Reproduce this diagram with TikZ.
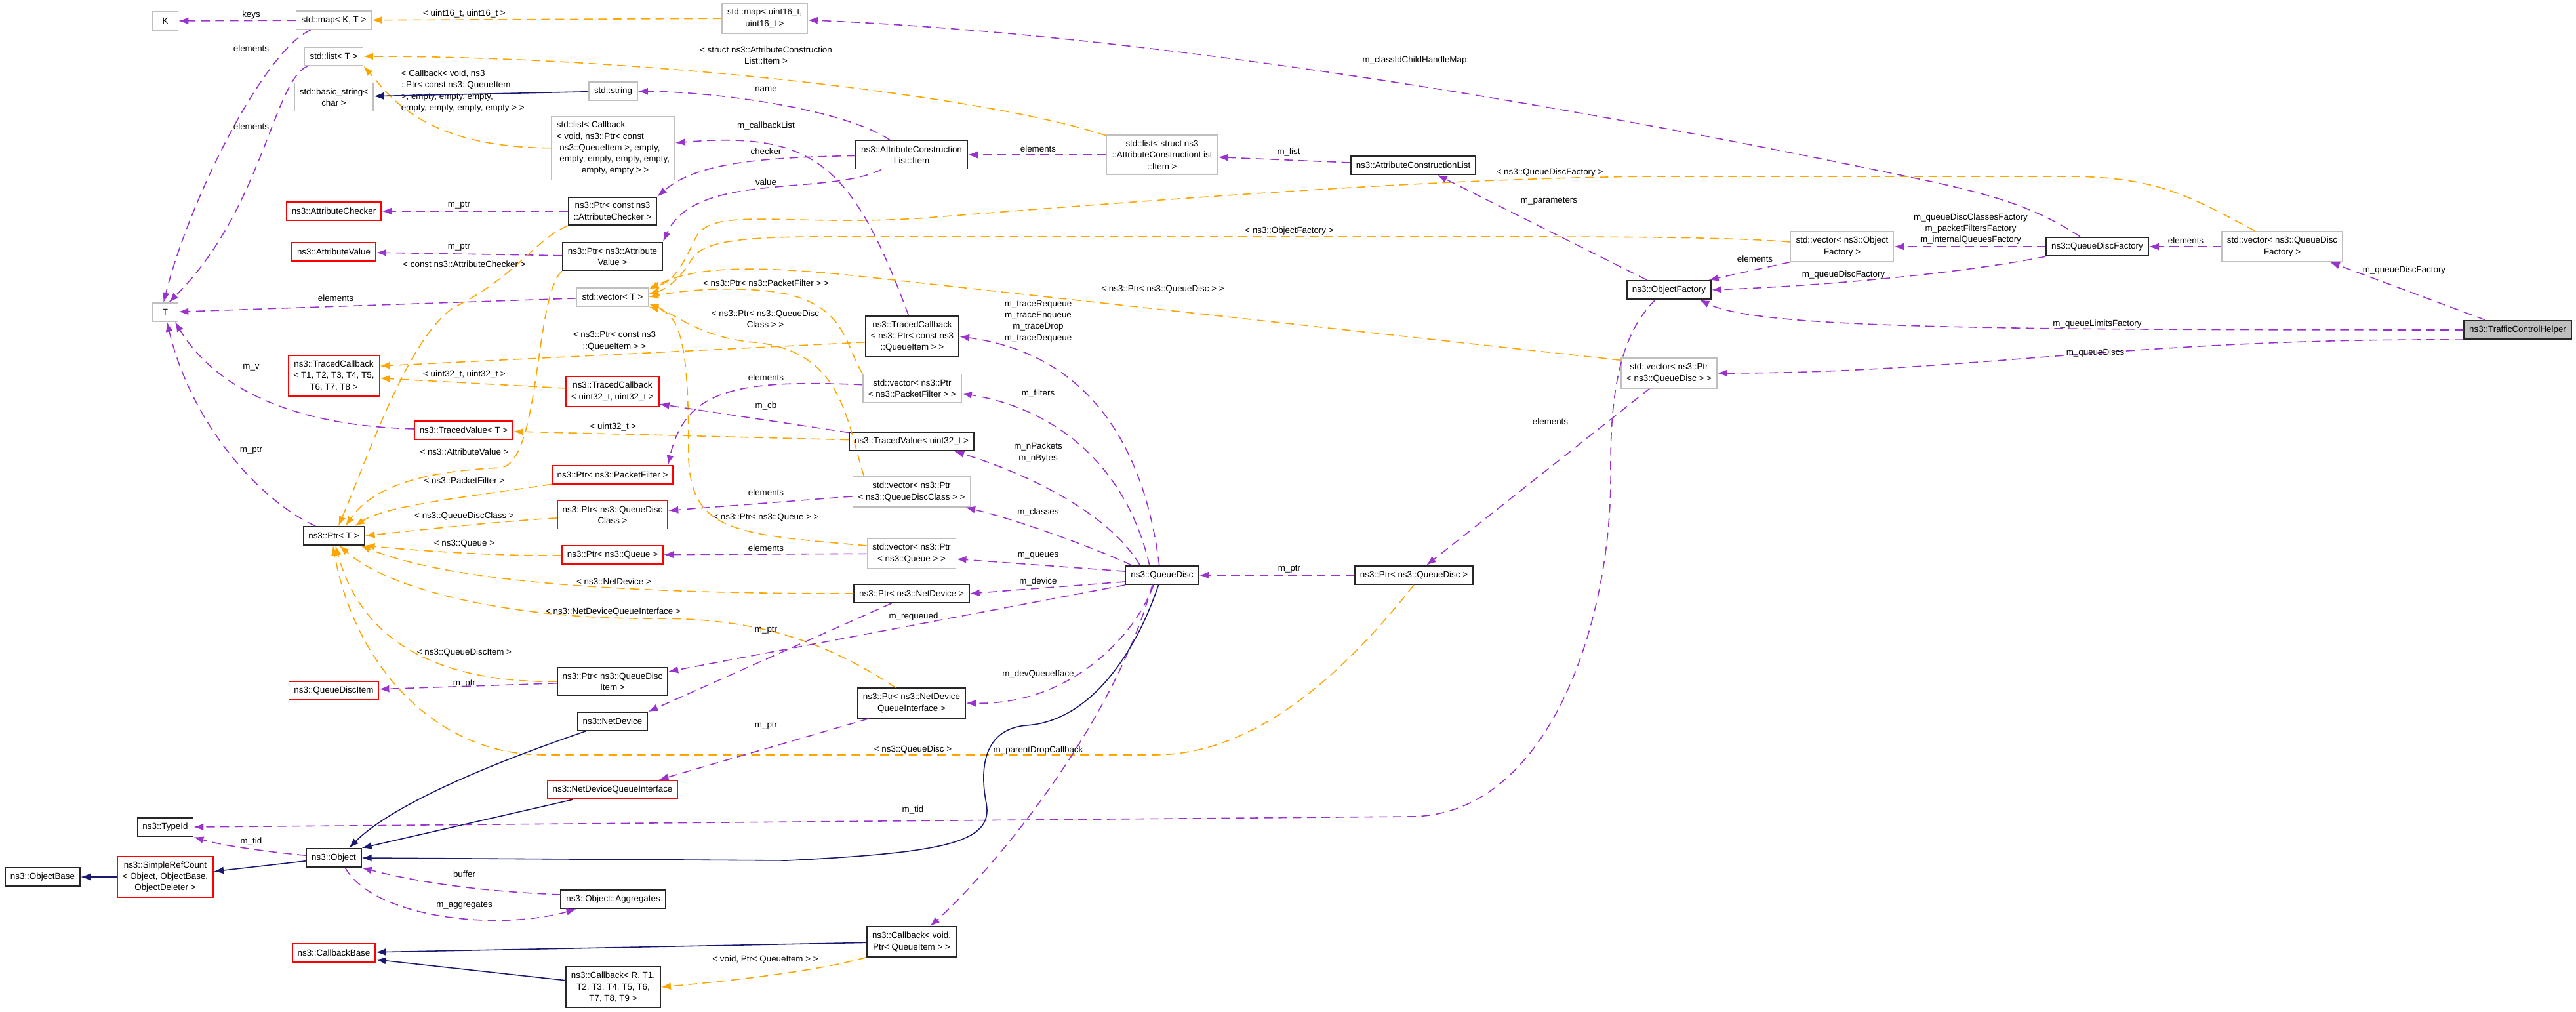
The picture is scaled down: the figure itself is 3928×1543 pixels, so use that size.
\documentclass[tikz,border=0pt]{standalone}
\usepackage{fontspec}
\setmainfont{Liberation Sans}
\usetikzlibrary{arrows.meta}
\definecolor{usecol}{HTML}{9A32CD}
\definecolor{tplcol}{HTML}{FFA500}
\definecolor{inhcol}{HTML}{191970}

\begin{document}
\begin{tikzpicture}[x=0.01cm ,y=-0.01cm ,
font=\fontsize{3.8}{4.9}\selectfont ,
anybox/.style ={rectangle ,draw ,align=center ,inner xsep=0.08cm ,inner ysep=0.08cm ,
  minimum height=0.28cm ,line width=0.5pt},
docbox/.style ={anybox ,draw=black!85},
extbox/.style ={anybox ,draw=black!25 ,line width=0.45pt},
redbox/.style ={anybox ,draw=red},
rootbox/.style ={anybox ,draw=black!85 ,fill=black!25},
usage/.style ={draw=usecol ,line width=0.45pt ,dash pattern=on 3.8pt off 2.4pt ,
  -{Latex[length=0.15cm,width=0.11cm]}},
tmpl/.style ={usage ,draw=tplcol},
inherit/.style ={draw=inhcol ,line width=0.45pt ,-{Latex[length=0.15cm,width=0.11cm]}},
elabel/.style ={inner sep=0pt ,align=center}
]
\useasboundingbox (0,0) rectangle (3928,1543);

% classes
\node[extbox ,minimum width=0.39cm] (K) at (252,32) {K};
\node[extbox] (mapKT) at (509,31) {std::map< K, T >};
\node[extbox] (listT) at (509,86) {std::list< T >};
\node[extbox] (bstr) at (509,148) {std::basic\_string<\\char >};
\node[redbox] (atChk) at (509,322) {ns3::AttributeChecker};
\node[redbox] (atVal) at (509,384) {ns3::AttributeValue};
\node[extbox ,minimum width=0.39cm] (T) at (252,476) {T};
\node[redbox] (tcT) at (509,573) {ns3::TracedCallback\\< T1, T2, T3, T4, T5,\\T6, T7, T8 >};
\node[redbox] (tvT) at (707,656) {ns3::TracedValue< T >};
\node[docbox] (ptrT) at (509,817) {ns3::Ptr< T >};
\node[redbox] (qdItem) at (509,1053) {ns3::QueueDiscItem};
\node[docbox] (typeId) at (252,1261) {ns3::TypeId};
\node[docbox] (obj) at (509,1308) {ns3::Object};
\node[redbox] (refCnt) at (252,1337) {ns3::SimpleRefCount\\< Object, ObjectBase,\\ObjectDeleter >};
\node[docbox] (objBase) at (65,1337) {ns3::ObjectBase};
\node[redbox] (cbBase) at (509,1453) {ns3::CallbackBase};

\node[extbox] (map16) at (1166,28) {std::map< uint16\_t,\\uint16\_t >};
\node[extbox] (str) at (935,139) {std::string};
\node[extbox ,align=left] (listCb) at (935,226) {std::list< Callback\\< void, ns3::Ptr< const\\\hspace*{0.045cm}ns3::QueueItem >, empty,\\\hspace*{0.045cm}empty, empty, empty, empty,\\\hspace*{0.38cm}empty, empty > >};
\node[docbox] (ptrChk) at (934,322) {ns3::Ptr< const ns3\\::AttributeChecker >};
\node[docbox] (ptrVal) at (934,391) {ns3::Ptr< ns3::Attribute\\Value >};
\node[extbox] (vecT) at (934,453) {std::vector< T >};
\node[redbox] (tcU) at (934,597) {ns3::TracedCallback\\< uint32\_t, uint32\_t >};
\node[redbox] (ptrPf) at (934,724) {ns3::Ptr< ns3::PacketFilter >};
\node[redbox] (ptrQdc) at (934,785) {ns3::Ptr< ns3::QueueDisc\\Class >};
\node[redbox] (ptrQ) at (934,846) {ns3::Ptr< ns3::Queue >};
\node[docbox] (ptrQdi) at (934,1039) {ns3::Ptr< ns3::QueueDisc\\Item >};
\node[docbox] (netDev) at (934,1100) {ns3::NetDevice};
\node[redbox] (ndqi) at (934,1204) {ns3::NetDeviceQueueInterface};
\node[docbox] (aggr) at (935,1371) {ns3::Object::Aggregates};
\node[docbox] (cbRT) at (935,1505) {ns3::Callback< R, T1,\\T2, T3, T4, T5, T6,\\T7, T8, T9 >};

\node[docbox] (item) at (1390,236) {ns3::AttributeConstruction\\List::Item};
\node[docbox] (tcQi) at (1391,513) {ns3::TracedCallback\\< ns3::Ptr< const ns3\\::QueueItem > >};
\node[extbox] (vecPf) at (1391,592) {std::vector< ns3::Ptr\\< ns3::PacketFilter > >};
\node[docbox] (tvU) at (1390,673) {ns3::TracedValue< uint32\_t >};
\node[extbox] (vecQdc) at (1390,750) {std::vector< ns3::Ptr\\< ns3::QueueDiscClass > >};
\node[extbox] (vecQ) at (1390,844) {std::vector< ns3::Ptr\\< ns3::Queue > >};
\node[docbox] (ptrNd) at (1390,905) {ns3::Ptr< ns3::NetDevice >};
\node[docbox] (ptrNdqi) at (1390,1072) {ns3::Ptr< ns3::NetDevice\\QueueInterface >};
\node[docbox] (cbVoid) at (1390,1436) {ns3::Callback< void,\\Ptr< QueueItem > >};

\node[extbox] (listItem) at (1772,236) {std::list< struct ns3\\::AttributeConstructionList\\::Item >};
\node[docbox] (qd) at (1772,877) {ns3::QueueDisc};
\node[docbox] (acl) at (2155,252) {ns3::AttributeConstructionList};
\node[docbox] (ptrQd) at (2156,877) {ns3::Ptr< ns3::QueueDisc >};
\node[docbox] (objFac) at (2545,442) {ns3::ObjectFactory};
\node[extbox] (vecQd) at (2545,569) {std::vector< ns3::Ptr\\< ns3::QueueDisc > >};
\node[extbox] (vecOf) at (2809,376) {std::vector< ns3::Object\\Factory >};
\node[docbox] (qdFac) at (3198,376) {ns3::QueueDiscFactory};
\node[extbox] (vecQdf) at (3480,376) {std::vector< ns3::QueueDisc\\Factory >};
\node[rootbox] (tch) at (3839,503) {ns3::TrafficControlHelper};

% top left corner
\draw[usage] (mapKT) -- (K) node[elabel] at (383,23) {keys};
\draw[usage] (mapKT) .. controls (405,75) and (290,300) .. (T.100) node[elabel] at (383,74) {elements};
\draw[usage] (listT) .. controls (418,120) and (400,320) .. (T.70) node[elabel] at (383,193) {elements};
\draw[tmpl] (map16) -- (mapKT) node[elabel] at (708,21) {< uint16\_t, uint16\_t >};
\draw[tmpl] (listItem) .. controls (1520,150) and (1000,86) .. (listT) node[elabel] at (1168,84) {< struct ns3::AttributeConstruction\\List::Item >};
\draw[tmpl] (listCb) .. controls (640,225) and (590,140) .. (listT.south east) node[elabel ,align=left ,anchor=west] at (611,139) {< Callback< void, ns3\\::Ptr< const ns3::QueueItem\\>, empty, empty, empty,\\empty, empty, empty, empty > >};
\draw[inherit] (str) -- (bstr);
\draw[usage] (item) .. controls (1290,168) and (1100,140) .. (str) node[elabel] at (1168,136) {name};
\draw[usage] (tcQi.100) .. controls (1300,250) and (1240,200) .. (listCb) node[elabel] at (1168,192) {m\_callbackList};
\draw[usage] (item) .. controls (1150,240) and (1060,250) .. (ptrChk.north east) node[elabel] at (1168,231) {checker};
\draw[usage] (item.206) .. controls (1260,300) and (1060,260) .. (ptrVal.north east) node[elabel] at (1168,278) {value};
\draw[usage] (listItem) -- (item) node[elabel] at (1583,227) {elements};
\draw[usage] (acl) -- (listItem) node[elabel] at (1965,232) {m\_list};
\draw[usage] (objFac.156) -- (acl.-22) node[elabel] at (2362,307) {m\_parameters};
\draw[usage] (qdFac.150) .. controls (3110,320) and (3050,300) .. (2950,278) .. controls (2300,140) and (1700,50) .. (map16) node[elabel] at (2157,92) {m\_classIdChildHandleMap};

% into std::vector< T >
\draw[tmpl] (vecQdf.150) .. controls (3340,300) and (3290,269) .. (3150,269) -- (2550,269) .. controls (2200,269) and (1700,310) .. (1400,333) .. controls (1200,345) and (1090,315) .. (1062,360) .. controls (1045,395) and (1030,430) .. (vecT.north east) node[elabel] at (2363,263) {< ns3::QueueDiscFactory >};
\draw[tmpl] (vecOf.175) .. controls (2650,362) and (2500,361) .. (2300,361) -- (1250,361) .. controls (1120,361) and (1070,370) .. (1055,395) .. controls (1040,420) and (1020,440) .. (vecT.5) node[elabel] at (1966,352) {< ns3::ObjectFactory >};
\draw[tmpl] (vecQd.165) -- (1300,420) .. controls (1150,405) and (1060,405) .. (vecT.12) node[elabel] at (1773,441) {< ns3::Ptr< ns3::QueueDisc > >};
\draw[tmpl] (vecPf.north west) .. controls (1285,520) and (1290,450) .. (1150,442) .. controls (1080,438) and (1030,445) .. (vecT.east) node[elabel] at (1168,432) {< ns3::Ptr< ns3::PacketFilter > >};
\draw[tmpl] (vecQdc.162) .. controls (1290,640) and (1285,535) .. (1150,522) .. controls (1070,515) and (1030,480) .. (vecT.-10) node[elabel] at (1167,486) {< ns3::Ptr< ns3::QueueDisc\\Class > >};
\draw[tmpl] (vecQ.170) .. controls (1120,815) and (1055,810) .. (1050,700) .. controls (1050,560) and (1045,480) .. (vecT.south east) node[elabel] at (1168,789) {< ns3::Ptr< ns3::Queue > >};
\draw[usage] (vecT) -- (T) node[elabel] at (512,455) {elements};

% attribute pointers
\draw[usage] (ptrChk) -- (atChk) node[elabel] at (700,313) {m\_ptr};
\draw[usage] (ptrVal) -- (atVal) node[elabel] at (700,377) {m\_ptr};
\draw[tmpl] (ptrChk.south west) .. controls (815,365) and (790,420) .. (690,470) .. controls (620,520) and (560,700) .. (ptrT.65) node[elabel] at (708,403) {< const ns3::AttributeChecker >};
\draw[tmpl] (ptrVal.south west) .. controls (815,450) and (825,700) .. (765,713) .. controls (650,718) and (570,740) .. (ptrT.40) node[elabel] at (708,689) {< ns3::AttributeValue >};
\draw[tmpl] (ptrPf) .. controls (720,757) and (590,770) .. (ptrT.25) node[elabel] at (708,733) {< ns3::PacketFilter >};
\draw[tmpl] (ptrQdc) .. controls (760,795) and (640,808) .. (ptrT.east) node[elabel] at (708,787) {< ns3::QueueDiscClass >};
\draw[tmpl] (ptrQ) .. controls (760,848) and (640,840) .. (ptrT.south east) node[elabel] at (708,829) {< ns3::Queue >};
\draw[tmpl] (ptrNd) .. controls (1000,905) and (700,893) .. (ptrT.-20) node[elabel] at (936,887) {< ns3::NetDevice >};
\draw[tmpl] (ptrNdqi.136) .. controls (1240,965) and (1130,943) .. (1000,943) .. controls (800,945) and (600,905) .. (ptrT.-60) node[elabel] at (935,933) {< ns3::NetDeviceQueueInterface >};
\draw[tmpl] (ptrQdi) .. controls (720,1040) and (560,1010) .. (ptrT.-80) node[elabel] at (708,995) {< ns3::QueueDiscItem >};
\draw[tmpl] (ptrQd.south) .. controls (2070,1000) and (1930,1151) .. (1760,1151) -- (830,1151) .. controls (660,1151) and (540,1010) .. (ptrT.-95) node[elabel] at (1392,1143) {< ns3::QueueDisc >};

% traced values and callbacks
\draw[usage] (tvT) .. controls (480,650) and (340,610) .. (T.-45) node[elabel] at (383,560) {m\_v};
\draw[usage] (ptrT.152) .. controls (390,760) and (290,640) .. (T.-80) node[elabel] at (383,687) {m\_ptr};
\draw[tmpl] (tcQi.-173) -- (tcT.12) node[elabel] at (937,520) {< ns3::Ptr< const ns3\\::QueueItem > >};
\draw[tmpl] (tcU.176) -- (tcT.-3) node[elabel] at (708,571) {< uint32\_t, uint32\_t >};
\draw[usage] (tvU.172) -- (tcU.-15) node[elabel] at (1168,619) {m\_cb};
\draw[tmpl] (tvU) -- (tvT) node[elabel] at (935,651) {< uint32\_t >};
\draw[usage] (vecPf.176) .. controls (1120,578) and (1045,595) .. (ptrPf.10) node[elabel] at (1168,576) {elements};
\draw[usage] (vecQdc) -- (ptrQdc) node[elabel] at (1168,751) {elements};
\draw[usage] (vecQ) -- (ptrQ) node[elabel] at (1168,836) {elements};

% members of the queue disc
\draw[usage] (qd.106) .. controls (1745,680) and (1660,540) .. (tcQi.east) node[elabel] at (1583,490) {m\_traceRequeue\\m\_traceEnqueue\\m\_traceDrop\\m\_traceDequeue};
\draw[usage] (qd.142) .. controls (1720,720) and (1620,625) .. (vecPf.-6) node[elabel] at (1583,600) {m\_filters};
\draw[usage] (qd.156) .. controls (1690,780) and (1560,720) .. (tvU.-13) node[elabel] at (1583,690) {m\_nPackets\\m\_nBytes};
\draw[usage] (qd.162) .. controls (1680,840) and (1560,795) .. (vecQdc.-16) node[elabel] at (1583,781) {m\_classes};
\draw[usage] (qd.174) -- (vecQ.-7) node[elabel] at (1583,847) {m\_queues};
\draw[usage] (qd.190) -- (ptrNd.east) node[elabel] at (1583,887) {m\_device};
\draw[usage] (qd.south west) -- (ptrQdi.10) node[elabel] at (1393,940) {m\_requeued};
\draw[usage] (qd.-131) .. controls (1735,960) and (1640,1075) .. (ptrNdqi.east) node[elabel] at (1583,1028) {m\_devQueueIface};
\draw[usage] (qd.-135) .. controls (1700,1100) and (1520,1320) .. (cbVoid.40) node[elabel] at (1583,1144) {m\_parentDropCallback};
\draw[usage] (ptrQdi) -- (qdItem) node[elabel] at (708,1043) {m\_ptr};
\draw[usage] (ptrNd.-154) -- (netDev.north east) node[elabel] at (1168,961) {m\_ptr};
\draw[usage] (ptrNdqi.-160) -- (ndqi.12) node[elabel] at (1168,1107) {m\_ptr};

% object model
\draw[inherit] (qd.-110) .. controls (1730,1000) and (1660,1100) .. (1565,1106) .. controls (1495,1112) and (1495,1180) .. (1504,1225) .. controls (1515,1285) and (1440,1300) .. (1200,1312) -- (obj.east);
\draw[inherit] (netDev.-160) .. controls (760,1160) and (600,1225) .. (obj.33);
\draw[inherit] (ndqi.-166) -- (obj.north east);
\draw[inherit] (obj) -- (refCnt);
\draw[inherit] (refCnt) -- (objBase);
\draw[usage] (obj.175) .. controls (420,1300) and (340,1290) .. (typeId.south east) node[elabel] at (383,1283) {m\_tid};
\draw[usage] (objFac.-144) .. controls (2470,510) and (2455,600) .. (2456,720) .. controls (2458,950) and (2360,1245) .. (2150,1245) -- (typeId.east) node[elabel] at (1392,1235) {m\_tid};
\draw[usage] (aggr.175) .. controls (700,1358) and (610,1338) .. (obj.south east) node[elabel] at (708,1333) {buffer};
\draw[usage] (obj.-41) .. controls (570,1400) and (760,1420) .. (aggr.-165) node[elabel] at (708,1381) {m\_aggregates};
\draw[inherit] (cbVoid) -- (cbBase);
\draw[inherit] (cbRT.172) -- (cbBase.-9);
\draw[tmpl] (cbVoid.south west) .. controls (1250,1480) and (1120,1495) .. (cbRT.east) node[elabel] at (1167,1463) {< void, Ptr< QueueItem > >};

% factories and the helper
\draw[usage] (ptrQd) -- (qd) node[elabel] at (1966,868) {m\_ptr};
\draw[usage] (vecQd) -- (ptrQd) node[elabel] at (2364,643) {elements};
\draw[usage] (vecOf.south west) -- (objFac.14) node[elabel] at (2676,395) {elements};
\draw[usage] (qdFac.west) -- (vecOf.east) node[elabel] at (3005,349) {m\_queueDiscClassesFactory\\m\_packetFiltersFactory\\m\_internalQueuesFactory};
\draw[usage] (qdFac.south west) .. controls (3000,415) and (2800,435) .. (objFac.east) node[elabel] at (2811,419) {m\_queueDiscFactory};
\draw[usage] (vecQdf) -- (qdFac) node[elabel] at (3333,367) {elements};
\draw[usage] (tch.163) -- (vecQdf.-18) node[elabel] at (3666,412) {m\_queueDiscFactory};
\draw[usage] (tch.west) .. controls (3000,503) and (2680,500) .. (objFac.-18) node[elabel] at (3198,494) {m\_queueLimitsFactory};
\draw[usage] (tch.south west) .. controls (3250,515) and (3000,569) .. (vecQd.east) node[elabel] at (3195,538) {m\_queueDiscs};
\end{tikzpicture}
\end{document}
